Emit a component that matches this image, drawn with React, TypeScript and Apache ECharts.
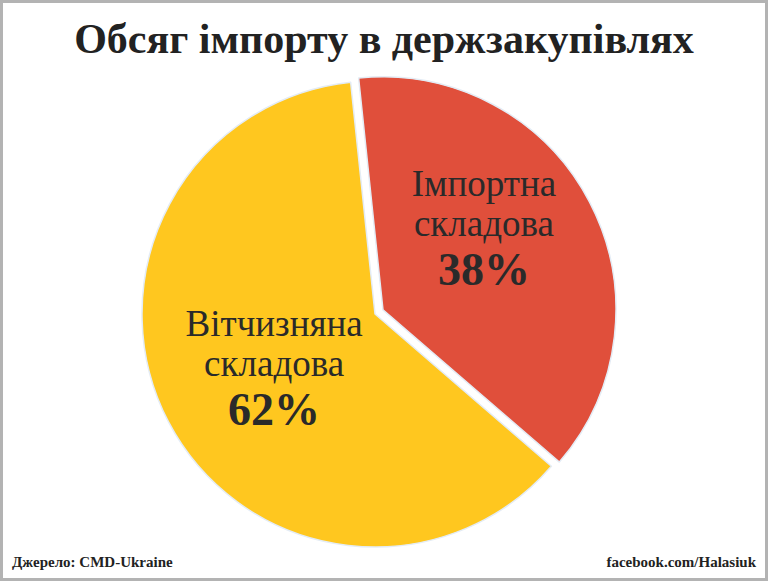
import React, { useEffect, useRef } from "react";
import * as echarts from "echarts";

const categories = ["Імпортна складова", "Вітчизняна складова"];
const values = [38, 62];
const colors = ["#E04F3B", "#FFC71F"];
const titleText = "Обсяг імпорту в держзакупівлях";
const sourceText = "Джерело: CMD-Ukraine";
const authorText = "facebook.com/Halasiuk";

export default function App() {
  const ref = useRef<HTMLDivElement>(null);
  useEffect(() => {
    document.body.style.margin = "0";
    const chart = echarts.init(ref.current!, undefined, { renderer: "svg" });
    const serif = "'Liberation Serif', 'DejaVu Serif', serif";
    chart.setOption({
      animation: false,
      backgroundColor: "#ffffff",
      title: {
        text: titleText,
        left: "center",
        top: 13,
        textStyle: { fontFamily: serif, fontWeight: "bold", fontSize: 42, color: "#222222" },
      },
      graphic: [
        {
          type: "rect",
          shape: { x: 1.5, y: 1.5, width: 765, height: 578 },
          style: { fill: "none", stroke: "#b3b3b3", lineWidth: 3 },
          silent: true,
        },
        {
          type: "text",
          left: 12,
          top: 554,
          style: { text: sourceText, font: `bold 15px ${serif}`, fill: "#222222" },
        },
        {
          type: "text",
          right: 12,
          top: 554,
          style: { text: authorText, font: `bold 15px ${serif}`, fill: "#222222" },
        },
      ],
      series: [
        {
          type: "pie",
          center: [375, 314],
          radius: 233,
          startAngle: 96,
          clockwise: true,
          selectedMode: "single",
          selectedOffset: 9,
          itemStyle: { borderColor: "#e4ecf5", borderWidth: 1.5 },
          emphasis: { disabled: true },
          label: {
            position: "inside",
            formatter: (p: any) =>
              p.name
                .split(" ")
                .map((w: string) => `{n|${w}}`)
                .join("\n") + `\n{p|${p.value}%}`,
            rich: {
              n: { fontFamily: serif, fontSize: 37, lineHeight: 40, color: "#2a2a2a" },
              p: { fontFamily: serif, fontSize: 46, fontWeight: "bold", lineHeight: 52, color: "#2a2a2a" },
            },
          },
          labelLine: { show: false },
          data: categories.map((c, i) => ({
            name: c,
            value: values[i],
            selected: i === 0,
            itemStyle: { color: colors[i] },
            label: i === 0 ? { padding: [0, 10, 50, 0] } : { padding: [0, 0, 0, 10] },
          })),
        },
      ],
    });
    return () => chart.dispose();
  }, []);
  return <div ref={ref} style={{ position: "absolute", left: 0, top: 0, width: 768, height: 581 }} />;
}
